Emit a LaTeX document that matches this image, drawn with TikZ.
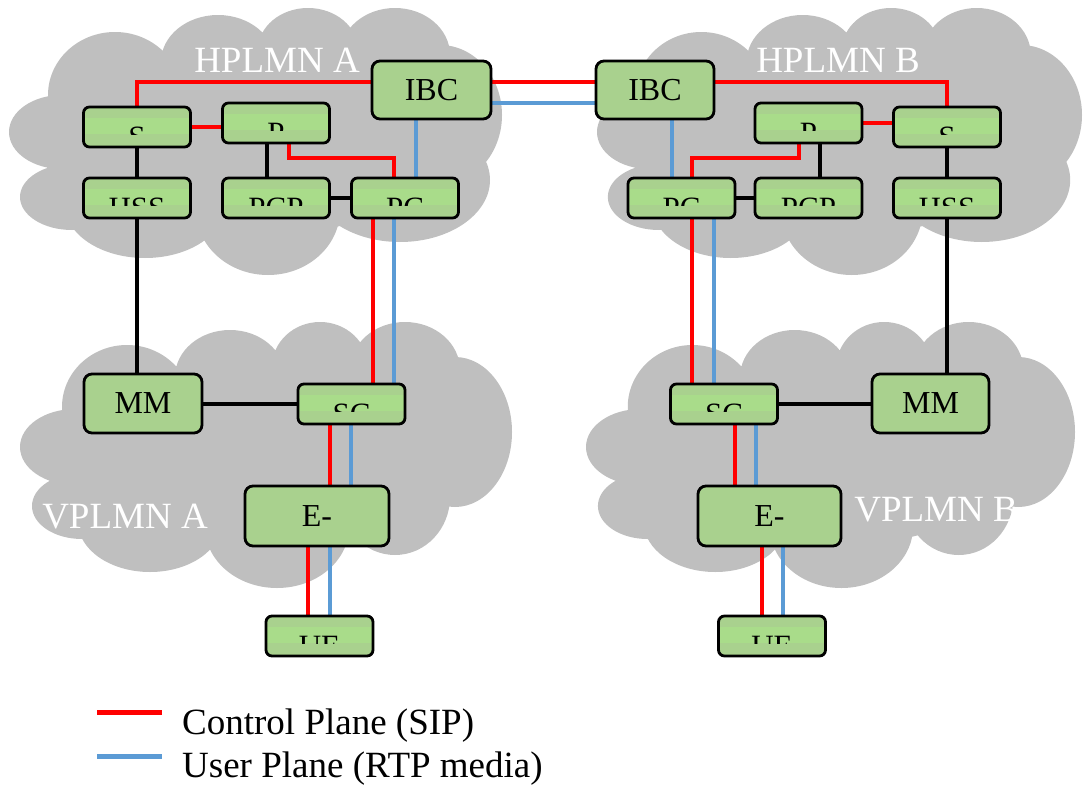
\documentclass[tikz,border=0pt]{standalone}
\usepackage{fontspec}
\setmainfont{Liberation Serif}
\usetikzlibrary{calc}
\definecolor{cloudgray}{HTML}{BFBFBF}
\definecolor{boxgreen}{HTML}{A9D18E}
\definecolor{boxlight}{HTML}{A9DC8A}
\definecolor{cpred}{HTML}{FF0000}
\definecolor{upblue}{HTML}{5B9BD5}
\newcommand{\boxfont}{\fontsize{31}{34}\selectfont}
\newcommand{\bigfont}{\fontsize{32}{35}\selectfont}
\newcommand{\cloudfont}{\fontsize{37}{40}\selectfont}
\newcommand{\legfont}{\fontsize{37}{40}\selectfont}
% upper clouds
\newcommand{\pmcloud}[4]{%
  \begin{scope}[shift={(#1,#2)}, xscale=#3/493, yscale=#4/267]
    \fill[cloudgray]
      (53,124) ellipse [x radius=53, y radius=37]
      (63,189) ellipse [x radius=52, y radius=33]
      (136,197) ellipse [x radius=80, y radius=53]
      (259,202) ellipse [x radius=72, y radius=65]
      (391,172) ellipse [x radius=90, y radius=62]
      (431,107) ellipse [x radius=62, y radius=70]
      (386,47) ellipse [x radius=55, y radius=47]
      (299,42) ellipse [x radius=50, y radius=42]
      (209,54) ellipse [x radius=57, y radius=47]
      (106,87) ellipse [x radius=67, y radius=63]
      (246,132) ellipse [x radius=200, y radius=95];
  \end{scope}}
% lower clouds
\newcommand{\pmcloudlow}[4]{%
  \begin{scope}[shift={(#1,#2)}, xscale=#3/492, yscale=#4/266]
    \fill[cloudgray]
      (55,125) ellipse [x radius=55, y radius=38]
      (62,184) ellipse [x radius=50, y radius=33]
      (130,200) ellipse [x radius=72, y radius=50]
      (257,205) ellipse [x radius=72, y radius=61]
      (375,175) ellipse [x radius=55, y radius=58]
      (435,110) ellipse [x radius=57, y radius=75]
      (385,48) ellipse [x radius=55, y radius=48]
      (300,45) ellipse [x radius=48, y radius=45]
      (210,55) ellipse [x radius=55, y radius=47]
      (107,85) ellipse [x radius=65, y radius=62]
      (240,130) ellipse [x radius=195, y radius=95];
  \end{scope}}
\pgfdeclarelayer{cloudlayer}
\pgfdeclarelayer{linelayer}
\pgfsetlayers{cloudlayer,linelayer,main}
\tikzset{
  ctrl/.style={draw=cpred, line width=4pt},
  usr/.style={draw=upblue, line width=4pt},
  sig/.style={draw=black, line width=4pt},
  netlabel/.style={text=white, font=\cloudfont, anchor=base, inner sep=0pt},
  bigbox/.style={draw=black, line width=2.8pt, rounded corners=8pt, fill=boxgreen,
    inner sep=0pt, font=\bigfont},
  smallbox/.style={draw=black, line width=2.8pt, rounded corners=6pt, fill=boxgreen,
    inner sep=0pt, minimum width=107pt, minimum height=40pt,
    path picture={
      \fill[boxlight, sharp corners] ([yshift=-11pt]path picture bounding box.north west)
        rectangle ([yshift=-27pt]path picture bounding box.north east);
      \begin{scope}
        \clip ([yshift=2pt]path picture bounding box.north west)
          rectangle ([yshift=-27.5pt]path picture bounding box.north east);
        \node[anchor=base, inner sep=0pt, draw=none, fill=none, font=\boxfont, text=black]
          at ([yshift=-40pt]path picture bounding box.north) {#1};
      \end{scope}
    }},
}
\begin{document}
\begin{tikzpicture}[x=1pt, y=-1pt]
\useasboundingbox (0,0) rectangle (1087,787);
\begin{pgfonlayer}{cloudlayer}
  \pmcloud{9}{8}{493}{267}
  \pmcloud{597}{8}{485}{267}
  \pmcloudlow{20}{322}{492}{266}
  \pmcloudlow{586}{322}{489}{266}
  \node[netlabel] (labHA) at (277,72) {HPLMN A};
  \node[netlabel] (labHB) at (838,72) {HPLMN B};
  \node[netlabel] (labVA) at (125,528) {VPLMN A};
  \node[netlabel] (labVB) at (936,521) {VPLMN B};
\end{pgfonlayer}

% ---- nodes, side A
\node[bigbox, minimum width=119pt, minimum height=58pt] (IBCA) at (431.5,90) {IBC};
\node[smallbox=S] (SA) at (137,127) {};
\node[smallbox=P] (PA) at (276,123) {};
\node[smallbox=HSS] (HSSA) at (137,198) {};
\node[smallbox=PCP] (PCPA) at (276,198) {};
\node[smallbox=PC] (PCA) at (405,198) {};
\node[bigbox, minimum width=118pt, minimum height=59pt] (MMA) at (143,403.5) {MM};
\node[smallbox=SC] (SCA) at (351.5,404) {};
\node[bigbox, minimum width=144pt, minimum height=60pt] (EA) at (317,516) {E-};
\node[smallbox=UE] (UEA) at (319.5,636) {};

% ---- nodes, side B
\node[bigbox, minimum width=118pt, minimum height=58pt] (IBCB) at (655,90) {IBC};
\node[smallbox=P] (PB) at (808.5,123) {};
\node[smallbox=S] (SB) at (947,127) {};
\node[smallbox=PC] (PCB) at (681.5,198) {};
\node[smallbox=PCP] (PCPB) at (808.5,198) {};
\node[smallbox=HSS] (HSSB) at (947,198) {};
\node[smallbox=SC] (SCB) at (724,404) {};
\node[bigbox, minimum width=117pt, minimum height=59pt] (MMB) at (930.5,403.5) {MM};
\node[bigbox, minimum width=143pt, minimum height=60pt] (EB) at (769.5,516) {E-};
\node[smallbox=UE] (UEB) at (772,636) {};

\begin{pgfonlayer}{linelayer}
  % side A control plane
  \draw[ctrl] (SA.north) |- ($(IBCA.west)+(0,-8)$);
  \draw[ctrl] (SA.east) -- (SA.east -| PA.west);
  \draw[ctrl] ($(PA.south)+(13,0)$) -- ++(0,14) -| ($(PCA.north)+(-11,0)$);
  \draw[ctrl] ($(PCA.south)+(-32,0)$) coordinate (ra1) -- (ra1 |- SCA.north);
  \draw[ctrl] ($(SCA.south)+(-21.5,0)$) coordinate (ra2) -- (ra2 |- EA.north);
  \draw[ctrl] ($(EA.south)+(-9,0)$) coordinate (ra3) -- (ra3 |- UEA.north);
  \draw[ctrl] ($(IBCA.east)+(0,-8)$) -- ($(IBCB.west)+(0,-8)$);
  % side A user plane
  \draw[usr] ($(IBCA.south)+(-15.5,0)$) coordinate (ba1) -- (ba1 |- PCA.north);
  \draw[usr] ($(PCA.south)+(-11,0)$) coordinate (ba2) -- (ba2 |- SCA.north);
  \draw[usr] ($(SCA.south)+(-0.5,0)$) coordinate (ba3) -- (ba3 |- EA.north);
  \draw[usr] ($(EA.south)+(13,0)$) coordinate (ba4) -- (ba4 |- UEA.north);
  \draw[usr] ($(IBCA.east)+(0,13)$) -- ($(IBCB.west)+(0,13)$);
  % side A signalling
  \draw[sig] (SA.south) -- (HSSA.north);
  \draw[sig] (HSSA.south) -- (HSSA.south |- MMA.north);
  \draw[sig] ($(PA.south)+(-9,0)$) coordinate (ka1) -- (ka1 |- PCPA.north);
  \draw[sig] (PCPA.east) -- (PCA.west);
  \draw[sig] (MMA.east) -- (MMA.east -| SCA.west);
  % side B control plane
  \draw[ctrl] ($(IBCB.east)+(0,-8)$) -| (SB.north);
  \draw[ctrl] (PB.east) -- (PB.east -| SB.west);
  \draw[ctrl] ($(PB.south)+(-9.5,0)$) -- ++(0,14) -| ($(PCB.north)+(10.5,0)$);
  \draw[ctrl] ($(PCB.south)+(10.5,0)$) coordinate (rb1) -- (rb1 |- SCB.north);
  \draw[ctrl] ($(SCB.south)+(11,0)$) coordinate (rb2) -- (rb2 |- EB.north);
  \draw[ctrl] ($(EB.south)+(-7.5,0)$) coordinate (rb3) -- (rb3 |- UEB.north);
  % side B user plane
  \draw[usr] ($(IBCB.south)+(17,0)$) coordinate (bb1) -- (bb1 |- PCB.north);
  \draw[usr] ($(PCB.south)+(32.5,0)$) coordinate (bb2) -- (bb2 |- SCB.north);
  \draw[usr] ($(SCB.south)+(32,0)$) coordinate (bb3) -- (bb3 |- EB.north);
  \draw[usr] ($(EB.south)+(13.5,0)$) coordinate (bb4) -- (bb4 |- UEB.north);
  % side B signalling
  \draw[sig] ($(PB.south)+(11.5,0)$) coordinate (kb1) -- (kb1 |- PCPB.north);
  \draw[sig] (PCB.east) -- (PCPB.west);
  \draw[sig] (SB.south) -- (HSSB.north);
  \draw[sig] (HSSB.south) -- (HSSB.south |- MMB.north);
  \draw[sig] (SCB.east) -- (SCB.east -| MMB.west);
\end{pgfonlayer}

% ---- legend
\coordinate (lr1) at (97,712);
\coordinate (lr2) at (162,712);
\coordinate (lb1) at (97,756);
\coordinate (lb2) at (162,756);
\draw[ctrl, line width=5pt] (lr1) -- (lr2);
\draw[usr, line width=5pt] (lb1) -- (lb2);
\node[anchor=base west, inner sep=0pt, font=\legfont] (legc) at (182,734) {Control Plane (SIP)};
\node[anchor=base west, inner sep=0pt, font=\legfont] (legu) at (182,777) {User Plane (RTP media)};
\end{tikzpicture}
\end{document}
